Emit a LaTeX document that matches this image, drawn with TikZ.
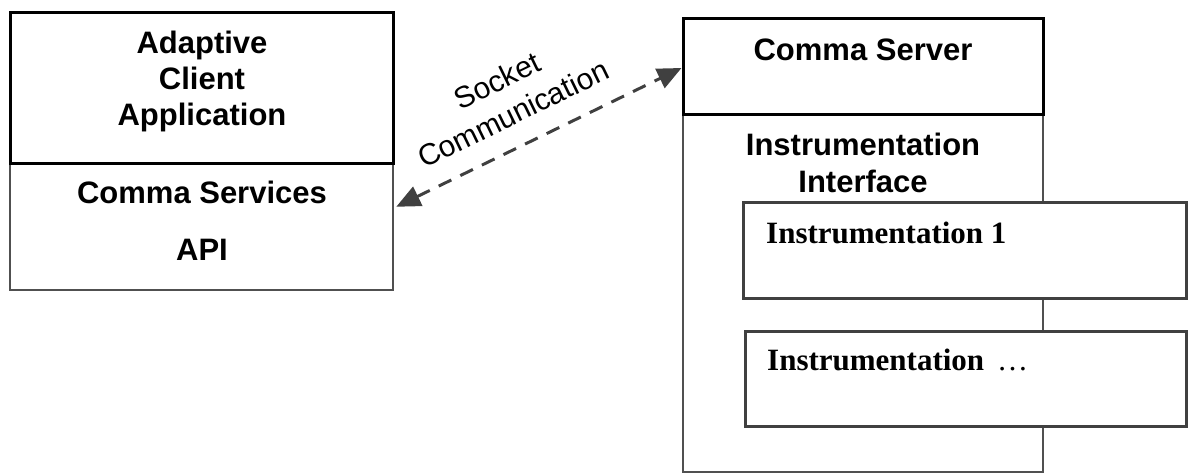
\documentclass[tikz,border=0pt]{standalone}
\usepackage{fontspec}
\setmainfont{Liberation Serif}
\newfontfamily\arialf{Liberation Sans}
\usetikzlibrary{arrows.meta,calc}
\definecolor{dgray}{HTML}{404040}
\definecolor{mgray}{HTML}{505050}
\tikzset{
  boxthick/.style={draw=black,line width=3pt,fill=white,inner sep=0pt,rectangle},
  boxthin/.style={draw=mgray,line width=2.5pt,fill=white,inner sep=0pt,rectangle},
  instbox/.style={draw=dgray,line width=3pt,fill=white,inner sep=0pt,rectangle},
  sanslabel/.style={font=\arialf\bfseries\fontsize{31}{36}\selectfont,inner sep=0pt,align=center},
  seriflabel/.style={font=\bfseries\fontsize{31}{36}\selectfont,inner sep=0pt},
  commarrow/.style={draw=dgray,line width=3pt,dash pattern=on 14pt off 10pt,
    {Triangle[length=24pt,width=21pt]}-{Triangle[length=24pt,width=21pt]}}
}
\begin{document}
\begin{tikzpicture}[x=1pt,y=-1pt]
\useasboundingbox (0,0) rectangle (1188,474);
% left stack
\node[boxthin, minimum width=383pt, minimum height=127pt] (apibox) at (201.5,226.5) {};
\node[boxthick, minimum width=383pt, minimum height=151pt] (client) at (201.5,87.5) {};
\node[sanslabel, anchor=north] (clienttext) at (202,30.5) {Adaptive\\Client\\Application};
\node[sanslabel, anchor=base] (services) at (202,203) {Comma Services};
\node[sanslabel, anchor=base] (api) at (202,260) {API};
% right stack
\node[boxthin, line width=2pt, minimum width=360pt, minimum height=358pt] (iface) at (863,293) {};
\node[boxthick, minimum width=360pt, minimum height=96pt] (server) at (863,66) {};
\node[sanslabel, anchor=base] (servertext) at (863,60) {Comma Server};
\node[sanslabel, anchor=north, font=\arialf\bfseries\fontsize{31}{37}\selectfont] (ifacetext) at (863,132.5) {Instrumentation\\Interface};
\node[instbox, minimum width=443pt, minimum height=96pt] (inst1) at (964.5,250) {};
\node[instbox, minimum width=441pt, minimum height=95pt] (instn) at (965.5,378.5) {};
\node[seriflabel, anchor=base west] (inst1text) at (766,243) {Instrumentation 1};
\node[seriflabel, anchor=base west] (instntext) at (767,370) {Instrumentation {\mdseries\,…}};
% socket communication
\draw[commarrow] ($(apibox.north east)+(2,45)$) -- ($(server.west)+(0,2)$);
\node[font=\arialf\fontsize{30}{37}\selectfont, align=center, rotate=26, inner sep=0pt] (socket) at (505,97) {Socket\\Communication};
\end{tikzpicture}
\end{document}
